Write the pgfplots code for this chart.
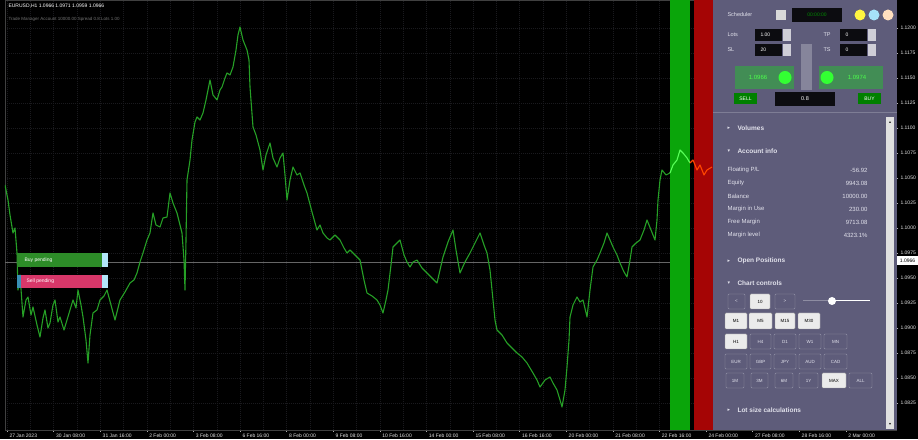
\documentclass[border=0pt]{standalone}
\usepackage{pgfplots}
\pgfplotsset{compat=1.18}
\usepackage{fontspec}
\setmainfont{Liberation Sans}
\newfontfamily\sym{DejaVu Sans}
\definecolor{panel}{RGB}{94,92,122}
\definecolor{ptext}{RGB}{226,226,236}
\definecolor{gline}{RGB}{38,160,38}
\definecolor{bandg}{RGB}{10,165,10}
\definecolor{bandr}{RGB}{165,5,5}
\definecolor{gridc}{RGB}{26,26,30}
\definecolor{buyg}{RGB}{45,140,40}
\definecolor{sellp}{RGB}{215,55,105}
\definecolor{fieldc}{RGB}{12,12,16}
\newcommand\fs[1]{\fontsize{#1}{#1}\selectfont}
\newcommand\wbtn[5]{\filldraw[fill=white!92!black,draw=white!60!black,rounded corners=1pt] (#1,#2) rectangle (#3,#4);
  \node[font=\fs{4.5},black] at ({(#1+#3)/2},{(#2+#4)/2}) {#5};}
\newcommand\dbtn[5]{\draw[draw=white!35!panel,rounded corners=1pt] (#1,#2) rectangle (#3,#4);
  \node[font=\fs{4.5},ptext] at ({(#1+#3)/2},{(#2+#4)/2}) {#5};}
\begin{document}
\begin{tikzpicture}
\useasboundingbox (0,0) rectangle (918pt,439pt);
\fill[black] (0,0) rectangle (918pt,439pt);
\begin{axis}[
    at={(5pt,9pt)}, anchor=south west,
    scale only axis, width=891pt, height=430pt,
    xmin=0, xmax=891, ymin=1.0798, ymax=1.1228,
    axis line style={draw=white!25!black, line width=0.4pt},
    grid=both,
    grid style={gridc, line width=0.4pt, dash pattern=on 1pt off 1pt},
    minor grid style={gridc, line width=0.4pt, dash pattern=on 1pt off 1pt},
    minor x tick num=1,
    xtick pos=lower, ytick pos=right, yticklabel pos=right,
    tick align=outside, major tick length=2pt, minor tick length=0pt,
    tick style={white!70!black, line width=0.4pt},
    xtick={2,48.6,95.2,141.8,188.4,235,281.6,328.2,374.8,421.4,468,514.6,561.2,607.8,654.4,701,747.6,794.2,840.8},
    xticklabels={27 Jan 2023,30 Jan 08:00,31 Jan 16:00,2 Feb 00:00,3 Feb 08:00,6 Feb 16:00,8 Feb 00:00,9 Feb 08:00,10 Feb 16:00,14 Feb 00:00,15 Feb 08:00,16 Feb 16:00,20 Feb 00:00,21 Feb 08:00,22 Feb 16:00,24 Feb 00:00,27 Feb 08:00,28 Feb 16:00,2 Mar 00:00},
    xticklabel style={font=\fs{5}, text=white!90!black, anchor=north west, xshift=-1pt, yshift=1.5pt},
    ytick={1.0825,1.0850,1.0875,1.0900,1.0925,1.0950,1.0975,1.1000,1.1025,1.1050,1.1075,1.1100,1.1125,1.1150,1.1175,1.1200},
    yticklabel style={/pgf/number format/.cd, fixed, fixed zerofill, precision=4, /tikz/.cd, font=\fs{5}, text=white!90!black, xshift=-1pt},
    /pgf/number format/assume math mode=true,
    clip=true,
]
% coloured zones
\addplot[fill=bandg, draw=none] coordinates {(665,1.0798) (665,1.1228) (685,1.1228) (685,1.0798)} -- cycle;
\addplot[fill=bandr, draw=none] coordinates {(689,1.0798) (689,1.1228) (708,1.1228) (708,1.0798)} -- cycle;
% bid line
\addplot[white!40!black, line width=0.4pt] coordinates {(0,1.0966) (665,1.0966)};
% price
\addplot[gline, line width=1.1pt, line join=round] coordinates {
(0,1.1043) (3,1.1028) (5,1.1013) (8,1.0995) (10,1.1000) (12,1.0975) (13,1.0938) (15,1.0953)
(18,1.0911) (21,1.0928) (23,1.0931) (26,1.0913) (28,1.0921) (32,1.0903) (35,1.0891) (38,1.0910)
(40,1.0918) (43,1.0900) (45,1.0905) (48,1.0923) (50,1.0928) (53,1.0906) (55,1.0911) (59,1.0898)
(62,1.0908) (65,1.0918) (68,1.0928) (71,1.0920) (73,1.0938) (76,1.0923) (78,1.0911) (81,1.0888)
(83,1.0865) (85,1.0893) (88,1.0915) (92,1.0918) (95,1.0928) (99,1.0932) (102,1.0938) (106,1.0923)
(110,1.0908) (113,1.0920) (115,1.0928) (120,1.0936) (125,1.0945) (129,1.0948) (132,1.0955) (135,1.0966)
(138,1.0975) (142,1.0988) (145,1.0995) (148,1.1015) (151,1.1003) (155,1.1001) (158,1.1010) (162,1.1011)
(165,1.1035) (168,1.1025) (172,1.1015) (175,1.1003) (177,1.0995) (179,1.0968) (180,1.0938) (181,1.0988)
(182,1.1048) (185,1.1068) (187,1.1088) (190,1.1106) (192,1.1111) (195,1.1108) (198,1.1115) (201,1.1128)
(205,1.1148) (208,1.1133) (212,1.1128) (215,1.1138) (217,1.1141) (220,1.1150) (222,1.1155) (225,1.1153)
(228,1.1161) (231,1.1178) (233,1.1193) (235,1.1201) (238,1.1188) (242,1.1178) (244,1.1168) (245,1.1141)
(248,1.1101) (251,1.1093) (255,1.1078) (258,1.1058) (261,1.1073) (265,1.1085) (268,1.1070) (272,1.1061)
(275,1.1070) (278,1.1075) (280,1.1053) (282,1.1028) (285,1.1048) (288,1.1061) (292,1.1053) (295,1.1055)
(299,1.1043) (302,1.1035) (307,1.1016) (312,1.0998) (315,1.1003) (318,1.0995) (322,1.0990) (325,1.0988)
(330,1.0993) (335,1.0988) (339,1.0980) (342,1.0975) (345,1.0978) (350,1.0973) (355,1.0968) (359,1.0948)
(362,1.0935) (367,1.0932) (372,1.0928) (375,1.0923) (378,1.0915) (381,1.0928) (383,1.0938) (386,1.0963)
(388,1.0981) (392,1.0985) (395,1.0988) (399,1.0973) (402,1.0966) (405,1.0961) (408,1.0966) (412,1.0968)
(417,1.0960) (422,1.0955) (427,1.0950) (432,1.0945) (435,1.0958) (438,1.0971) (443,1.0986) (448,1.0998)
(451,1.0978) (455,1.0955) (460,1.0966) (465,1.0975) (470,1.0985) (475,1.0995) (479,1.0983) (482,1.0975)
(485,1.0958) (488,1.0928) (490,1.0908) (492,1.0898) (497,1.0893) (502,1.0885) (507,1.0880) (512,1.0875)
(517,1.0871) (522,1.0865) (525,1.0860) (528,1.0855) (532,1.0848) (535,1.0841) (540,1.0848) (545,1.0851)
(548,1.0845) (552,1.0838) (555,1.0828) (557,1.0821) (560,1.0838) (562,1.0861) (564,1.0888) (565,1.0911)
(568,1.0923) (572,1.0931) (575,1.0926) (578,1.0928) (582,1.0911) (585,1.0938) (588,1.0961) (592,1.0968)
(595,1.0975) (599,1.0985) (602,1.0995) (605,1.0988) (608,1.0981) (612,1.0973) (615,1.0965) (619,1.0956)
(622,1.0951) (625,1.0968) (627,1.0981) (631,1.0985) (635,1.0988) (639,1.0998) (642,1.1008) (646,1.0998)
(650,1.0988) (652,1.1008) (653,1.1028) (655,1.1048) (657,1.1058) (661,1.1053) (665,1.1055)
};
\addplot[green!65!white, line width=1.1pt, line join=round] coordinates {
(665,1.1055) (668,1.1063) (672,1.1068) (675,1.1078) (678,1.1075) (682,1.1070) (685,1.1065)
};
\addplot[orange!55!red, line width=1.1pt, line join=round] coordinates {
(685,1.1065) (688,1.1068) (692,1.1058) (695,1.1063) (699,1.1053) (702,1.1058) (707,1.1061)
};
\end{axis}
\begin{scope}[x=1pt, y=-1pt, shift={(0pt,439pt)}]
% header text
\node[anchor=west, font=\fs{5}, white] at (5,6) {EURUSD,H1  1.0966 1.0971 1.0959 1.0966};
\node[anchor=west, font=\fs{4.5}, white!45!black] at (5,19) {Trade Manager  Account 10000.00  Spread 0.8  Lots 1.00};
% pending buttons
\fill[buyg] (17,253) rectangle (102,267);
\fill[cyan!30!white] (102,253) rectangle (108,267);
\node[anchor=west, font=\fs{5}, white] at (21,260) {Buy pending};
\fill[sellp] (18,275) rectangle (102,288);
\fill[cyan!70!black] (17,275) rectangle (21,288);
\fill[cyan!30!white] (102,275) rectangle (108,288);
\node[anchor=west, font=\fs{5}, white] at (23,281.5) {Sell pending};
% current price label
\fill[white] (897,256) rectangle (918,265);
\node[font=\fs{5}, black] at (907.5,260.5) {1.0966};
% panel
\fill[panel] (713,0) rectangle (897,430);
\node[anchor=west, font=\fs{5.5}, ptext] at (724,15) {Scheduler};
\fill[white!85!black] (776,10) rectangle (786,20);
\fill[fieldc] (792,8) rectangle (842,22);
\node[font=\fs{5}, green!55!black] at (817,15) {00:00:00};
\fill[yellow!75!white] (860,15) circle (5.5);
\fill[cyan!35!white] (874,15) circle (5.5);
\fill[orange!25!white] (888,15) circle (5.5);
% lots / sl / tp
\node[anchor=west, font=\fs{5.5}, ptext] at (724,35) {Lots};
\fill[fieldc] (755,29) rectangle (782,41);
\node[anchor=west, font=\fs{5}, white] at (757,35) {1.00};
\fill[white!70!panel] (783,29) rectangle (791,41);
\node[anchor=west, font=\fs{5.5}, ptext] at (724,50) {SL};
\fill[fieldc] (755,44) rectangle (782,56);
\node[anchor=west, font=\fs{5}, white] at (757,50) {20};
\fill[white!70!panel] (783,44) rectangle (791,56);
\node[anchor=west, font=\fs{5.5}, ptext] at (820,35) {TP};
\fill[fieldc] (840,29) rectangle (867,41);
\node[anchor=west, font=\fs{5}, white] at (842,35) {0};
\fill[white!70!panel] (868,29) rectangle (876,41);
\node[anchor=west, font=\fs{5.5}, ptext] at (820,50) {TS};
\fill[fieldc] (840,44) rectangle (867,56);
\node[anchor=west, font=\fs{5}, white] at (842,50) {0};
\fill[white!70!panel] (868,44) rectangle (876,56);
\fill[white!25!panel] (801,44) rectangle (812,90);
% sell / buy
\fill[green!30!panel] (735,66) rectangle (794,89);
\node[font=\fs{6}, green!70!white] at (758,77.5) {1.0966};
\fill[green!80!white] (785,77.5) circle (6.5);
\fill[green!30!panel] (819,66) rectangle (883,89);
\node[font=\fs{6}, green!70!white] at (857,77.5) {1.0974};
\fill[green!80!white] (827,77.5) circle (6.5);
\fill[green!50!black] (734,93) rectangle (757,104);
\node[font=\fs{5}, white] at (745.5,98.5) {SELL};
\fill[fieldc] (775,92) rectangle (835,106);
\node[font=\fs{5.5}, white] at (805,99) {0.8};
\fill[green!50!black] (858,93) rectangle (881,104);
\node[font=\fs{5}, white] at (869.5,98.5) {BUY};
\draw[white!20!panel] (713,112) -- (897,112);
% scrollbar
\fill[white!88!black] (886,117) rectangle (894,429);
\node[font=\fs{4}, black] at (890,122) {\sym ▴};
\node[font=\fs{4}, black] at (890,424) {\sym ▾};
% sections
\node[anchor=west, font=\fs{5}, ptext] at (724,128) {\sym ▸};
\node[anchor=west, font=\bfseries\fs{6.5}, ptext] at (734,128) {Volumes};
\node[anchor=west, font=\fs{5}, ptext] at (724,151) {\sym ▾};
\node[anchor=west, font=\bfseries\fs{6.5}, ptext] at (734,151) {Account info};
\foreach \lab/\val/\yy in {{Floating P/L}/-56.92/170, Equity/9943.08/183, Balance/10000.00/196, {Margin in Use}/230.00/209, {Free Margin}/9713.08/222, {Margin level}/4323.1\%/235} {
  \node[anchor=west, font=\fs{6}, ptext] at (724,\yy) {\lab};
  \node[anchor=east, font=\fs{6}, ptext] at (871,\yy) {\val};
}
\node[anchor=west, font=\fs{5}, ptext] at (724,261) {\sym ▸};
\node[anchor=west, font=\bfseries\fs{6.5}, ptext] at (734,261) {Open Positions};
\node[anchor=west, font=\fs{5}, ptext] at (724,283) {\sym ▾};
\node[anchor=west, font=\bfseries\fs{6.5}, ptext] at (734,283) {Chart controls};
% chart control buttons
\dbtn{728}{294}{745}{309}{<}
\wbtn{750}{294}{770}{309}{10}
\dbtn{775}{294}{795}{309}{>}
\draw[white!30!panel, line width=1pt] (803,301) -- (832,301);
\draw[white, line width=1pt] (832,301) -- (870,301);
\fill[white] (832,301) circle (4);
\wbtn{725}{313}{747}{329}{M1}
\wbtn{749}{313}{772}{329}{M5}
\wbtn{775}{313}{795}{329}{M15}
\wbtn{798}{313}{820}{329}{M30}
\wbtn{725}{334}{747}{349}{H1}
\dbtn{750}{334}{771}{349}{H4}
\dbtn{774}{334}{796}{349}{D1}
\dbtn{799}{334}{821}{349}{W1}
\dbtn{824}{334}{847}{349}{MN}
\dbtn{725}{354}{747}{369}{EUR}
\dbtn{750}{354}{771}{369}{GBP}
\dbtn{774}{354}{796}{369}{JPY}
\dbtn{799}{354}{821}{369}{AUD}
\dbtn{824}{354}{847}{369}{CAD}
\dbtn{726}{373}{744}{388}{1M}
\dbtn{751}{373}{768}{388}{3M}
\dbtn{775}{373}{793}{388}{6M}
\dbtn{799}{373}{818}{388}{1Y}
\wbtn{822}{373}{846}{388}{MAX}
\dbtn{849}{373}{872}{388}{ALL}
\node[anchor=west, font=\fs{5}, ptext] at (724,410) {\sym ▸};
\node[anchor=west, font=\bfseries\fs{6.5}, ptext] at (734,410) {Lot size calculations};
\end{scope}
\end{tikzpicture}
\end{document}
